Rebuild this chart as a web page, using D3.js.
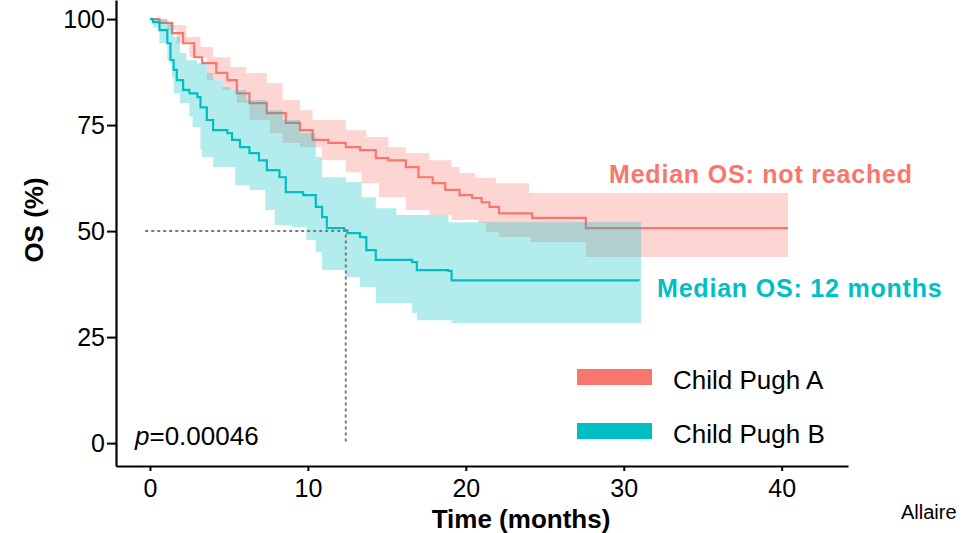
<!DOCTYPE html>
<html>
<head>
<meta charset="utf-8">
<script src="https://cdn.jsdelivr.net/npm/d3@7"></script>
<style>
  body { margin: 0; background: #fff; }
  svg { display: block; font-family: "Liberation Sans", Arial, sans-serif; }
</style>
</head>
<body>
<div id="km_chart"></div>
<script>
// Kaplan-Meier estimates, [month, OS %]
const groups = ["Child Pugh A", "Child Pugh B"];
const colors = ["#F8766D", "#00BFC4"];

const survA = [[0,100],[0.6,99.1],[1.4,96.7],[2.1,94.3],[2.8,91.0],[3.3,89.6],[4.2,87.3],[4.9,85.6],[5.5,82.5],
  [6.3,80.2],[7.4,77.8],[8.6,75.5],[9.5,73.8],[10.3,71.5],[11.3,70.8],[12.4,69.8],[13.3,69.1],[14.3,67.2],[15.1,66.7],
  [16.2,65.1],[17.0,62.7],[17.9,61.3],[18.7,59.7],[19.6,58.5],[20.4,57.8],[21.0,56.8],[21.5,55.7],[22.1,54.2],
  [24.2,53.1],[27.6,50.7],[40.4,50.7]];
const upperA = [[0,100],[0.6,99.3],[1.5,98.6],[2.3,95.8],[3.2,93.4],[4.0,91.0],[5.1,88.7],[6.1,87.3],[7.4,84.9],
  [8.4,80.9],[9.5,78.5],[10.3,76.2],[12.4,73.8],[13.7,72.2],[15.1,69.8],[16.2,68.4],[17.7,66.7],[19.1,65.1],
  [19.6,63.7],[20.6,62.5],[21.9,61.3],[24.0,59.0],[40.4,59.0]];
const lowerA = [[0,100],[1.1,97.4],[1.7,94.3],[2.5,91.0],[3.6,85.6],[4.6,83.3],[5.5,80.2],[6.3,76.2],[7.6,73.1],
  [8.4,70.8],[9.5,69.8],[10.9,66.7],[12.4,63.9],[13.4,61.3],[14.5,58.0],[16.2,55.0],[17.7,53.8],[19.1,52.6],
  [20.8,51.9],[21.3,49.8],[22.1,48.6],[24.1,47.4],[27.6,43.9],[40.4,43.9]];

const survB = [[0,100],[0.2,99.3],[0.6,97.4],[1.1,94.3],[1.3,90.3],[1.5,88.0],[1.7,85.6],[2.1,83.3],[2.5,82.5],
  [3.0,81.6],[3.2,79.2],[3.6,76.2],[4.0,73.8],[4.9,73.1],[5.2,71.5],[5.7,69.8],[6.3,68.4],[6.9,66.7],[7.4,64.4],
  [8.2,62.7],[8.6,59.2],[9.7,58.5],[10.5,55.7],[10.9,53.3],[11.2,50.7],[12.3,50.2],[12.5,49.5],[13.3,48.6],
  [13.7,45.5],[14.3,43.2],[16.6,42.7],[16.9,40.8],[18.9,40.6],[19.1,38.4],[31.0,38.4]];
const upperB = [[0,100],[1.1,99.1],[1.5,95.8],[1.9,92.0],[2.3,90.3],[3.0,89.6],[3.6,87.3],[4.0,85.6],[4.6,84.0],
  [5.1,83.3],[6.1,80.9],[7.4,78.5],[8.4,76.2],[9.5,73.1],[10.5,67.5],[10.9,62.7],[12.4,61.6],[13.4,58.0],
  [14.3,55.4],[15.6,53.8],[18.9,52.1],[31.1,52.1]];
const lowerB = [[0,100],[0.2,98.1],[0.6,94.3],[1.1,90.3],[1.4,86.3],[1.5,82.5],[1.9,80.2],[2.5,77.0],[2.7,74.5],
  [3.2,69.1],[3.3,67.5],[4.0,65.1],[5.4,60.8],[6.3,59.7],[7.3,55.0],[7.9,51.4],[9.0,50.9],[9.9,47.9],[10.5,45.0],
  [10.9,40.8],[12.4,39.2],[13.3,36.8],[14.3,33.0],[16.6,30.7],[16.9,29.0],[19.1,28.3],[31.1,28.3]];

const medianLine = [[-0.3,50],[12.4,50],[12.4,0]];
const medianLabels = ["Median OS: not reached", "Median OS: 12 months"];
const xTicks = [0, 10, 20, 30, 40];
const yTicks = [0, 25, 50, 75, 100];
const pValue = "0.00046";

function main() {
    const width = 963, height = 533;

    const svg = d3.select("#km_chart")
        .append("svg")
        .attr("width", width)
        .attr("height", height);

    // Scales, axis frame runs 116..848 px and 0..466 px
    const x = d3.scaleLinear().domain([-2.15, 44.2]).range([116, 848]);
    const y = d3.scaleLinear().domain([-5.4, 104.5]).range([466, 0]);

    // value of a step function at time t
    function stepAt(arr, t) {
        let v = arr[0][1];
        for (const p of arr) { if (p[0] <= t) v = p[1]; }
        return v;
    }
    function bandRows(upper, lower) {
        const times = Array.from(new Set(upper.map(d => d[0]).concat(lower.map(d => d[0])))).sort((a, b) => a - b);
        return times.map(t => ({t: t, hi: stepAt(upper, t), lo: stepAt(lower, t)}));
    }

    const area = d3.area()
        .curve(d3.curveStepAfter)
        .x(d => x(d.t))
        .y0(d => y(d.lo))
        .y1(d => y(d.hi));
    const line = d3.line()
        .curve(d3.curveStepAfter)
        .x(d => x(d[0]))
        .y(d => y(d[1]));

    const series = [
        {surv: survA, band: bandRows(upperA, lowerA), color: colors[0]},
        {surv: survB, band: bandRows(upperB, lowerB), color: colors[1]}
    ];

    series.forEach(s => {
        svg.append("path")
            .attr("d", area(s.band))
            .attr("fill", s.color)
            .attr("fill-opacity", 0.3);
        svg.append("path")
            .attr("d", line(s.surv))
            .attr("fill", "none")
            .attr("stroke", s.color)
            .attr("stroke-width", 2.2);
    });

    // Median guide
    svg.append("path")
        .attr("d", d3.line().x(d => x(d[0])).y(d => y(d[1]))(medianLine))
        .attr("fill", "none")
        .attr("stroke", "#7a7a7a")
        .attr("stroke-width", 2)
        .style("stroke-dasharray", "3,3");

    // Axes
    const yAxis = svg.append("g")
        .attr("transform", "translate(116,0)")
        .call(d3.axisLeft(y).tickValues(yTicks).tickSize(9).tickSizeOuter(0).tickPadding(2));
    const xAxis = svg.append("g")
        .attr("transform", "translate(0,466)")
        .call(d3.axisBottom(x).tickValues(xTicks).tickSize(5).tickSizeOuter(0).tickPadding(8));
    [xAxis, yAxis].forEach(g => {
        g.select(".domain").attr("stroke", "#000").attr("stroke-width", 2.2);
        g.selectAll(".tick line").attr("stroke", "#000").attr("stroke-width", 2);
        g.selectAll(".tick text")
            .attr("fill", "#000")
            .style("font-size", "25px")
            .style("font-family", "'Liberation Sans', Arial, sans-serif");
    });

    // Axis titles
    svg.append("text")
        .attr("x", 521)
        .attr("y", 528)
        .attr("text-anchor", "middle")
        .style("font-size", "26px")
        .style("font-weight", "bold")
        .text("Time (months)");
    svg.append("text")
        .attr("transform", "translate(43,220) rotate(-90)")
        .attr("text-anchor", "middle")
        .style("font-size", "26px")
        .style("font-weight", "bold")
        .text("OS (%)");

    // Median labels
    svg.append("text")
        .attr("x", 609)
        .attr("y", 183)
        .attr("fill", colors[0])
        .style("font-size", "25px")
        .style("font-weight", "bold")
        .style("letter-spacing", "0.8px")
        .text(medianLabels[0]);
    svg.append("text")
        .attr("x", 657)
        .attr("y", 297)
        .attr("fill", colors[1])
        .style("font-size", "25px")
        .style("font-weight", "bold")
        .style("letter-spacing", "0.8px")
        .text(medianLabels[1]);

    // p-value
    const pText = svg.append("text")
        .attr("x", 135)
        .attr("y", 445)
        .style("font-size", "26px");
    pText.append("tspan").style("font-style", "italic").text("p");
    pText.append("tspan").text("=" + pValue);

    // Legend
    const legend = svg.append("g");
    groups.forEach((gname, i) => {
        legend.append("rect")
            .attr("x", 577)
            .attr("y", 369 + i * 54)
            .attr("width", 75)
            .attr("height", 16)
            .attr("fill", colors[i]);
        legend.append("text")
            .attr("x", 673)
            .attr("y", 389 + i * 54)
            .style("font-size", "26px")
            .text(gname);
    });

    // Source
    svg.append("text")
        .attr("x", 901)
        .attr("y", 519)
        .style("font-size", "20px")
        .text("Allaire");
}

main();
</script>
</body>
</html>
